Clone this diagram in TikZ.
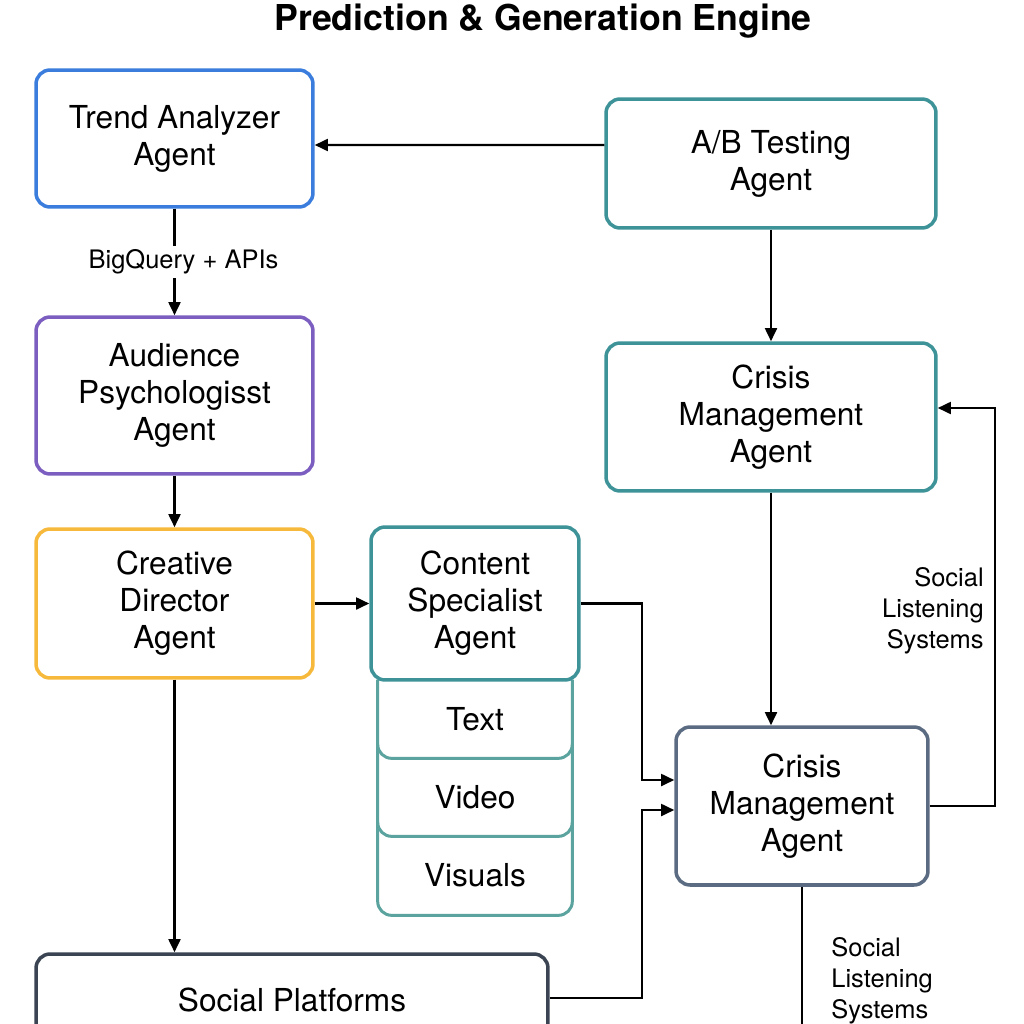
\documentclass[tikz,border=0pt]{standalone}
\usepackage{fontspec}
\setmainfont{TeX Gyre Heros}
\usepackage{xcolor}
\usepackage{tikz}
\usetikzlibrary{arrows.meta}

\definecolor{trendblue}{RGB}{59,125,221}
\definecolor{psychpurple}{RGB}{123,94,192}
\definecolor{creativeorange}{RGB}{246,185,59}
\definecolor{agentteal}{RGB}{62,147,153}
\definecolor{stackteal}{RGB}{91,163,158}
\definecolor{crisisslate}{RGB}{91,107,130}
\definecolor{platformdark}{RGB}{58,68,82}

\newcommand{\boxfont}{\fontsize{18}{21}\selectfont}
\newcommand{\notefont}{\fontsize{14.5}{17.6}\selectfont}

\begin{document}
\begin{tikzpicture}[x=0.02cm,y=0.02cm]
\tikzstyle{every node}+=[inner sep=0pt]
\tikzstyle{agent}=[draw, line width=2pt, rounded corners=8pt, align=center, font=\boxfont]
\tikzstyle{stackitem}=[minimum width=3.88cm, font=\boxfont]
\tikzstyle{stackline}=[draw=stackteal, line width=1.7pt, rounded corners=8pt]
\tikzstyle{link}=[black, line width=1.3pt, -{Triangle[length=7.5pt,width=6.8pt]}]
\tikzstyle{note}=[font=\notefont]
\useasboundingbox (0,0) rectangle (1024,-1024);
\fill [white] (0,0) rectangle (1024,-1024);
\node [font=\bfseries\fontsize{20.3}{24}\selectfont] (title) at (543,-21) {Prediction \& Generation Engine};
% left column
\node [agent, draw=trendblue, minimum width=5.54cm, minimum height=2.74cm] (trend) at (174.5,-138.5) {Trend Analyzer\\Agent};
\node [agent, draw=psychpurple, minimum width=5.54cm, minimum height=3.14cm] (psych) at (174.5,-395.5) {Audience\\Psychologisst\\Agent};
\node [agent, draw=creativeorange, minimum width=5.54cm, minimum height=2.98cm] (creative) at (174.5,-603.5) {Creative\\Director\\Agent};
\node [agent, draw=platformdark, minimum width=10.24cm, minimum height=1.84cm] (platforms) at (292,-1000) {Social Platforms};
% content stack
\node [stackitem, minimum height=1.56cm] (text) at (475,-719) {Text};
\node [stackitem, minimum height=1.56cm] (video) at (475,-797) {Video};
\node [stackitem, minimum height=1.58cm] (visuals) at (475,-875.5) {Visuals};
\draw [stackline] ([yshift=0.28cm]visuals.north west) -- (visuals.south west) -- (visuals.south east) -- ([yshift=0.28cm]visuals.north east);
\draw [stackline] ([yshift=0.28cm]video.north west) -- (video.south west) -- (video.south east) -- ([yshift=0.28cm]video.north east);
\draw [stackline] (text.north west) -- (text.south west) -- (text.south east) -- (text.north east);
\node [agent, draw=agentteal, fill=white, minimum width=4.16cm, minimum height=3.06cm] (content) at (475,-603.5) {Content\\Specialist\\Agent};
% right column
\node [agent, draw=agentteal, minimum width=6.6cm, minimum height=2.58cm] (abtest) at (771,-163.5) {A/B Testing\\Agent};
\node [agent, draw=agentteal, minimum width=6.6cm, minimum height=2.96cm] (crisis) at (771,-417) {Crisis\\Management\\Agent};
\node [agent, draw=crisisslate, minimum width=5.04cm, minimum height=3.16cm] (monitor) at (802,-806) {Crisis\\Management\\Agent};
\node [note, anchor=east, align=right] (listenA) at (984,-611) {Social\\Listening\\Systems};
\node [note, anchor=west, align=left] (listenB) at (831,-981) {Social\\Listening\\Systems};
\coordinate (offpage) at (802,-1040);
% connectors
\draw [link] ([yshift=0.37cm]abtest.west) -- ([yshift=-0.13cm]trend.east);
\draw [link] (trend.south) -- (psych.north) node [midway, fill=white, inner sep=2pt, xshift=0.18cm, font=\notefont] (bq) {BigQuery + APIs};
\draw [link] (psych.south) -- (creative.north);
\draw [link] (creative.east) -- (content.west);
\draw [link] (creative.south) -- (platforms.north -| creative.south);
\draw [link] (abtest.south) -- (crisis.north);
\draw [link] (crisis.south) -- (crisis.south |- monitor.north);
\draw [link] (content.east) -- ++(61,0) |- ([yshift=0.52cm]monitor.west);
\draw [link] ([yshift=0.04cm]platforms.east) -- ++(92,0) |- ([yshift=-0.08cm]monitor.west);
\draw [link] (monitor.east) -- ++(65,0) |- ([yshift=0.18cm]crisis.east);
\draw [black, line width=1.3pt] (monitor.south) -- (offpage);
\end{tikzpicture}
\end{document}
